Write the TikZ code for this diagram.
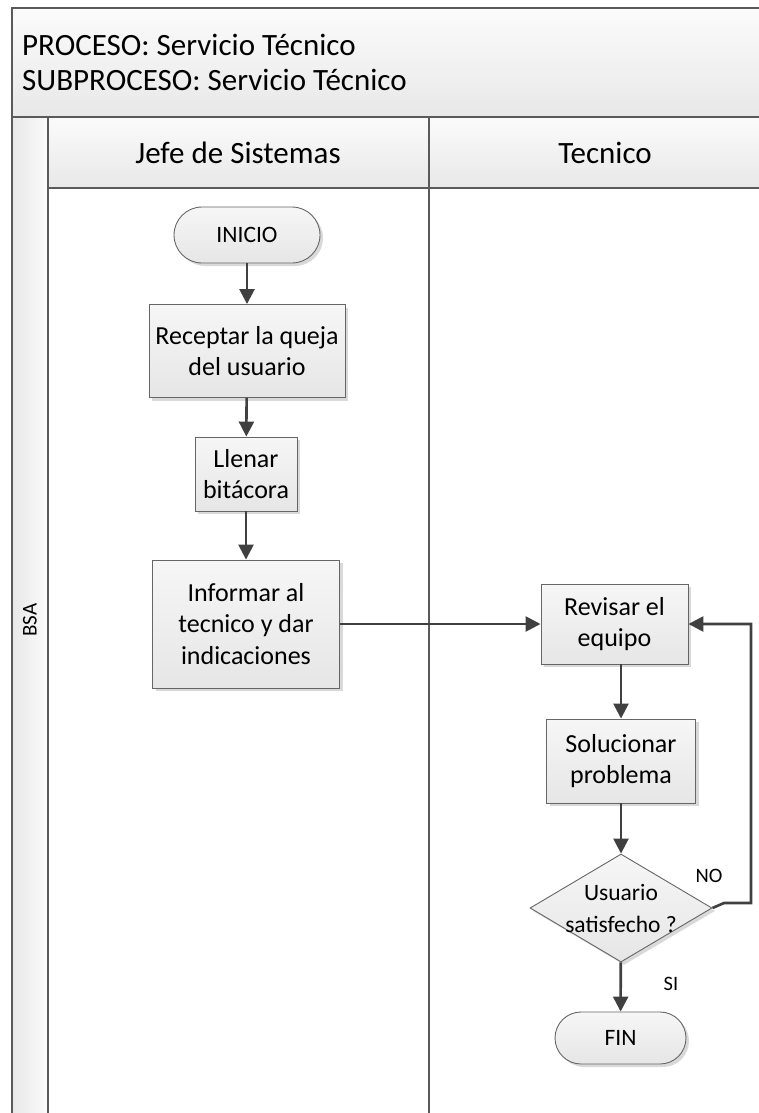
\documentclass[tikz,border=0pt]{standalone}
\usepackage{fontspec}
\setmainfont{Carlito}
\usetikzlibrary{shapes.geometric,arrows.meta,shadows}

\definecolor{frameline}{HTML}{5A5A5A}
\definecolor{boxline}{HTML}{666666}
\definecolor{flowline}{HTML}{404040}
\definecolor{boxtop}{HTML}{F6F6F6}
\definecolor{boxbot}{HTML}{E6E6E6}
\definecolor{hdrtop}{HTML}{FBFBFB}
\definecolor{hdrbot}{HTML}{E8E8E8}

\newcommand\hdrfont{\fontsize{31}{35}\selectfont}
\newcommand\bxfont{\fontsize{26}{31.5}\selectfont}
\newcommand\termfont{\fontsize{23.5}{27}\selectfont}
\newcommand\smfont{\fontsize{20.5}{24}\selectfont}

\begin{document}
\begin{tikzpicture}[x=1pt,y=-1pt,
  every node/.style={inner sep=0pt},
  boxshadow/.style={drop shadow={shadow xshift=3pt,shadow yshift=-3pt,fill=black,opacity=0.15}},
  procbox/.style={draw=boxline, line width=0.9pt, top color=boxtop, bottom color=boxbot,
                  boxshadow, align=center, font=\bxfont},
  term/.style={procbox, font=\termfont},
  decision/.style={diamond, draw=boxline, line width=0.9pt, top color=boxtop, bottom color=boxbot,
                   boxshadow, align=center, font=\fontsize{23.5}{32}\selectfont,
                   inner xsep=-16pt, inner ysep=-8pt,
                   aspect=1.685, minimum width=182pt, minimum height=108pt},
  flow/.style={draw=flowline, line width=2.6pt, -{Triangle[length=15pt,width=15pt]}},
  frame/.style={draw=frameline, line width=1.4pt},
  lbl/.style={font=\smfont}
]
\useasboundingbox (0,0) rectangle (759,1113);

% pool header, lane headers and lane-label strip
\shade[top color=hdrtop, bottom color=hdrbot] (12,8) rectangle (759,117);
\shade[top color=hdrtop, bottom color=hdrbot] (48,117) rectangle (759,188);
\shade[left color=hdrbot, right color=hdrtop] (12,117) rectangle (48,1113);

\draw[frame] (759,8) -- (12,8) -- (12,1113);
\draw[frame] (12,117) -- (759,117);
\draw[frame] (48,188) -- (759,188);
\draw[frame] (48,117) -- (48,1113);
\draw[frame] (429,117) -- (429,1113);

\node[anchor=base west, font=\hdrfont] (proc) at (22,56) {PROCESO: Servicio Técnico};
\node[anchor=base west, font=\hdrfont] (subproc) at (22,91) {SUBPROCESO: Servicio Técnico};
\node[font=\hdrfont] (lane1) at (238,153) {Jefe de Sistemas};
\node[font=\hdrfont] (lane2) at (605,153) {Tecnico};
\node[font=\fontsize{21}{25}\selectfont, rotate=90] (pool) at (30,620) {BSA};

% flow steps
\node[term, rounded corners=28pt, minimum width=146pt, minimum height=56pt] (inicio) at (247,235) {INICIO};
\node[procbox, minimum width=196pt, minimum height=93pt] (receptar) at (247,351) {Receptar la queja\\del usuario};
\node[procbox, minimum width=102pt, minimum height=74pt] (llenar) at (246,474) {Llenar\\bitácora};
\node[procbox, minimum width=187pt, minimum height=128pt] (informar) at (246,624) {Informar al\\tecnico y dar\\indicaciones};
\node[procbox, minimum width=147pt, minimum height=80pt] (revisar) at (614.5,624) {Revisar el\\equipo};
\node[procbox, minimum width=149pt, minimum height=84pt] (solucionar) at (621,761) {Solucionar\\problema};
\node[decision] (satisf) at (621,908) {Usuario\\satisfecho ?};
\node[term, rounded corners=26pt, minimum width=131pt, minimum height=52pt] (fin) at (620.5,1038) {FIN};

% connectors
\draw[flow] (inicio) -- (receptar);
\draw[flow] (receptar) -- (llenar);
\draw[flow] (llenar) -- (informar);
\draw[flow] (informar.east) -- (revisar.west);
\draw[flow] (revisar.south -| solucionar.north) -- (solucionar.north);
\draw[flow] (solucionar) -- (satisf);
\draw[flow] (satisf) -- (fin);

\coordinate (kink) at (724,903);
\coordinate (back) at (751,903);
\draw[flow] (satisf.east) -- (kink) -- (back) |- (revisar.east);

\node[lbl] (no) at (709,876) {NO};
\node[lbl] (si) at (671,984) {SI};
\end{tikzpicture}
\end{document}
